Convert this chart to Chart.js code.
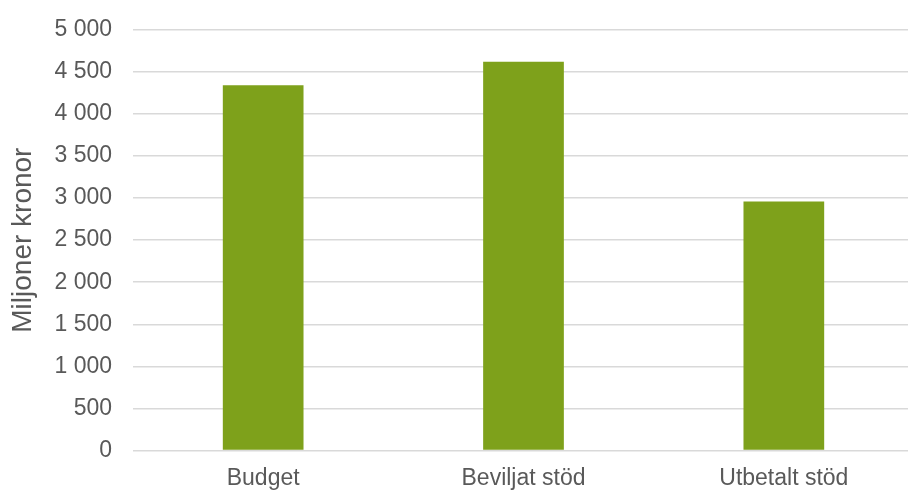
<!DOCTYPE html>
<html>
<head>
<meta charset="utf-8">
<script src="https://cdn.jsdelivr.net/npm/chart.js@4"></script>
<style>
    html, body { margin: 0; padding: 0; background: #fff; overflow: hidden; }
    #wrap { width: 916px; height: 497px; margin-top: -5px; }
</style>
</head>
<body>
<div id="wrap"><canvas id="myChart"></canvas></div>
<script>
const categories = ['Budget', 'Beviljat stöd', 'Utbetalt stöd'];
const amounts = [4340, 4620, 2960];
const yTicks = [0, 500, 1000, 1500, 2000, 2500, 3000, 3500, 4000, 4500, 5000];
const yTitle = 'Miljoner kronor';

const grey = '#595959';

const ctx = document.getElementById('myChart').getContext('2d');
const chart = new Chart(ctx, {
    type: 'bar',
    data: {
        labels: categories,
        datasets: [{
            label: yTitle,
            data: amounts,
            backgroundColor: '#7ea11b',
            borderWidth: 0,
            categoryPercentage: 1,
            barPercentage: 0.31
        }]
    },
    options: {
        responsive: true,
        maintainAspectRatio: false,
        animation: false,
        layout: {
            padding: { top: 24, left: 6, right: 2, bottom: 0 }
        },
        plugins: {
            legend: { display: false },
            tooltip: { enabled: false }
        },
        scales: {
            x: {
                grid: { display: false },
                border: { display: false },
                ticks: {
                    color: grey,
                    font: { family: 'Liberation Sans', size: 23 },
                    padding: 6
                },
                afterFit(scale) {
                    scale.height = 41.5;
                }
            },
            y: {
                min: 0,
                max: 5000,
                afterBuildTicks(scale) {
                    scale.ticks = yTicks.map(v => ({ value: v }));
                },
                grid: {
                    color: '#d9d9d9',
                    lineWidth: 1.5,
                    drawTicks: false
                },
                border: { display: false },
                ticks: {
                    color: grey,
                    padding: 21,
                    font: { family: 'Liberation Sans', size: 23 },
                    callback: v => String(v).replace(/\B(?=(\d{3})+(?!\d))/g, ' ')
                },
                title: {
                    display: true,
                    text: yTitle,
                    color: grey,
                    font: { family: 'Liberation Sans', size: 28 },
                    padding: { top: 0, bottom: 0 }
                },
                afterFit(scale) {
                    scale.width = 127;
                }
            }
        }
    }
});
</script>
</body>
</html>
